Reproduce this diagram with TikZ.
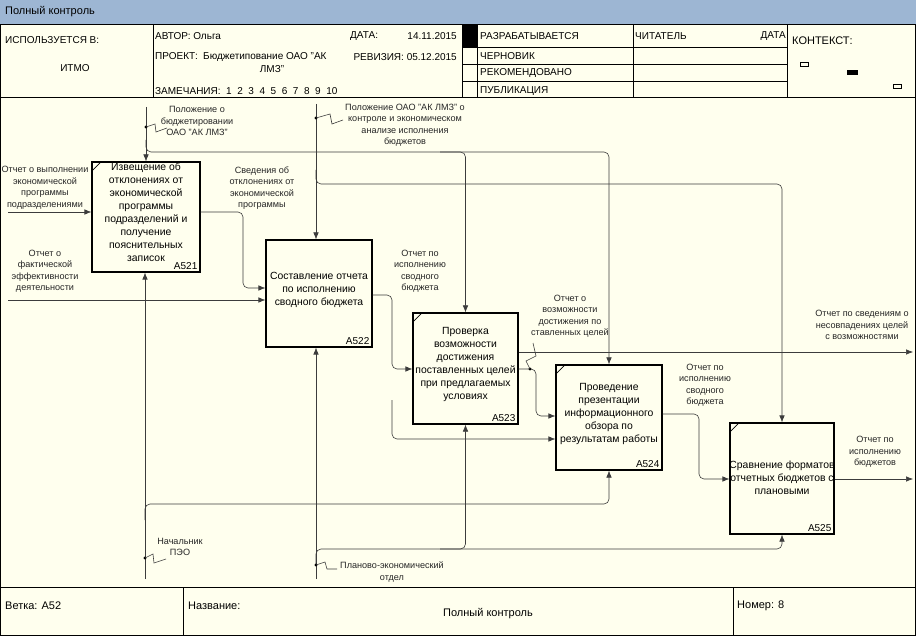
\documentclass[tikz,border=0pt]{standalone}
\usepackage{fontspec}
\setmainfont{Liberation Sans}
\usetikzlibrary{arrows.meta}
\definecolor{bg}{RGB}{255,255,238}
\definecolor{bar}{RGB}{157,182,211}
\definecolor{ln}{RGB}{60,60,60}
\begin{document}
\begin{tikzpicture}[x=1pt,y=-1pt,
 frame/.style={line width=1pt,draw=black},
 box/.style={draw=black,line width=1.1pt,fill=bg,inner sep=0pt},
 btext/.style={align=center,font=\fontsize{10.4}{13}\selectfont,inner sep=0pt},
 blabel/.style={anchor=south east,font=\fontsize{10}{12}\selectfont,inner sep=0pt},
 lab/.style={align=center,font=\fontsize{9.1}{11.5}\selectfont,inner sep=0pt,text=black!85},
 htext/.style={anchor=west,font=\fontsize{10}{12}\selectfont,inner sep=0pt},
 ftext/.style={anchor=west,font=\fontsize{11}{13}\selectfont,inner sep=0pt},
 conn/.style={draw=ln,line width=0.6pt,rounded corners=5pt},
 arr/.style={conn,-{Latex[length=7pt,width=5.5pt]}},
 dotc/.style={circle,fill=black,inner sep=0pt,minimum size=3.2pt},
 zig/.style={draw=ln,line width=0.6pt},
]
\useasboundingbox (0,0) rectangle (916,636);
\fill[bg] (0,0) rectangle (916,636);
\fill[bar] (0,0) rectangle (916,24);
\node[ftext] (title) at (5,12) {Полный контроль};

% frame
\draw[frame] (0.5,24.5) rectangle (915.5,635.5);
\draw[frame] (0,98) -- (916,98);
\draw[frame] (0,587) -- (916,587);
\draw[frame] (153,24.5) -- (153,98);
\draw[frame] (462,24.5) -- (462,98);
\draw[frame] (477,24.5) -- (477,98);
\draw[frame] (633,24.5) -- (633,98);
\draw[frame] (787,24.5) -- (787,98);
\draw[frame] (462,48) -- (787,48);
\draw[frame] (462,65) -- (787,65);
\draw[frame] (462,82) -- (787,82);
\fill[black] (462,24.5) rectangle (477,48);
\draw[frame] (183,587) -- (183,636);
\draw[frame] (733,587) -- (733,636);

% header texts
\node[htext] (h1) at (5,40) {ИСПОЛЬЗУЕТСЯ В:};
\node[htext,anchor=center] (h2) at (75,68) {ИТМО};
\node[htext] (h3) at (155,36) {АВТОР: Ольга};
\node[htext] (h4) at (350,36) {ДАТА:};
\node[htext,anchor=east] (h5) at (457,36) {14.11.2015};
\node[htext] (h6) at (155,56) {ПРОЕКТ:};
\node[htext] (h7) at (203,57) {Бюджетипование ОАО "АК};
\node[htext,anchor=center] (h8) at (272,69) {ЛМЗ"};
\node[htext,anchor=east] (h9) at (457,57) {РЕВИЗИЯ: 05.12.2015};
\node[htext] (h10) at (155,91) {ЗАМЕЧАНИЯ:\ \ 1\ \ 2\ \ 3\ \ 4\ \ 5\ \ 6\ \ 7\ \ 8\ \ 9\ \ 10};
\node[htext] (h11) at (480,36) {РАЗРАБАТЫВАЕТСЯ};
\node[htext] (h12) at (480,56) {ЧЕРНОВИК};
\node[htext] (h13) at (480,73) {РЕКОМЕНДОВАНО};
\node[htext] (h14) at (480,91) {ПУБЛИКАЦИЯ};
\node[htext] (h15) at (635,36) {ЧИТАТЕЛЬ};
\node[htext,anchor=east] (h16) at (786,36) {ДАТА};
\node[ftext] (h17) at (792,41) {КОНТЕКСТ:};
\draw[line width=0.8pt] (800,62) rectangle (808,66);
\fill[black] (847,70) rectangle (858,75);
\draw[line width=0.8pt] (893,84) rectangle (901,88);

% footer texts
\node[ftext] (f1) at (5,606) {Ветка: A52};
\node[ftext] (f2) at (188,606) {Название:};
\node[ftext,anchor=center] (f3) at (488,614) {Полный контроль};
\node[ftext] (f4) at (737,606) {Номер: 8};

% boxes
\node[box,minimum width=108pt,minimum height=110pt] (A521) at (146,217) {};
\node[box,minimum width=106pt,minimum height=107pt] (A522) at (319,293.5) {};
\node[box,minimum width=105pt,minimum height=111pt] (A523) at (465.5,368.5) {};
\node[box,minimum width=106pt,minimum height=105pt] (A524) at (609,417.5) {};
\node[box,minimum width=104pt,minimum height=111pt] (A525) at (782,478.5) {};
\foreach \b in {A521,A523,A524,A525}{
  \draw[line width=0.8pt] (\b.north west) ++(0,10) -- ++(10,-10);
}
\node[btext] (t521) at (146,212) {Извещение об\\отклонениях от\\экономической\\программы\\подразделений и\\получение\\пояснительных\\записок};
\node[btext] (t522) at (319,290) {Составление отчета\\по исполнению\\сводного бюджета};
\node[btext] (t523) at (465.5,365) {Проверка\\возможности\\достижения\\поставленных целей\\при предлагаемых\\условиях};
\node[btext] (t524) at (609,414) {Проведение\\презентации\\информационного\\обзора по\\результатам работы};
\node[btext] (t525) at (782,478) {Сравнение форматов\\отчетных бюджетов с\\плановыми};
\node[blabel] (n521) at ([xshift=-3pt,yshift=3pt]A521.south east) {A521};
\node[blabel] (n522) at ([xshift=-3pt,yshift=3pt]A522.south east) {A522};
\node[blabel] (n523) at ([xshift=-3pt,yshift=3pt]A523.south east) {A523};
\node[blabel] (n524) at ([xshift=-3pt,yshift=3pt]A524.south east) {A524};
\node[blabel] (n525) at ([xshift=-3pt,yshift=3pt]A525.south east) {A525};

% free ends
\coordinate (in1) at (8,212);
\coordinate (in2) at (8,300);
\coordinate (c1) at (146,107);
\coordinate (c2) at (316,104);
\coordinate (m1) at (145,579);
\coordinate (m2) at (316,579);
\coordinate (o1) at (913,352);
\coordinate (o2) at (913,479);

% inputs
\draw[arr] (in1) -- (A521.west |- in1);
\draw[arr] (in2) -- (A522.west |- in2);
\draw[arr] (A521.east |- 0,212) -| (243,260) |- (A522.west |- 0,288);
% controls
\draw[arr] (c1) -- (A521.north -| c1);
\draw[arr] (146,140) |- (400,152) -| (A524.north);
\draw[arr] (440,152) -| (A523.north);
\draw[arr] (c2) -- (A522.north -| c2);
\draw[arr] (316,170) |- (500,184) -| (A525.north);
% A522 outputs
\draw[arr] (A522.east |- 0,295) -| (392,330) |- (A523.west |- 0,369);
\draw[arr] (392,400) |- (A524.west |- 0,439);
% A523 outputs
\draw[arr] (A523.east |- 0,352) -- (o1);
\draw[arr] (A523.east |- 0,369) -| (536,395) |- (A524.west |- 0,416);
% A524 -> A525
\draw[arr] (A524.east |- 0,414) -| (699,450) |- (A525.west |- 0,479);
\draw[arr] (A525.east |- 0,479) -- (o2);
% mechanisms
\draw[arr] (m1) -- (A521.south -| m1);
\draw[arr] (145,520) |- (400,504) -| (A524.south);
\draw[arr] (m2) -- (A522.south -| m2);
\draw[arr] (316,565) |- (500,549) -| (A525.south);
\draw[arr] (440,549) -| (A523.south);

% squiggles
\node[dotc] (d1) at (146,127) {};
\draw[zig] (d1.center) -- (155,124) -- (156,132) -- (167,128);
\node[dotc] (d2) at (316,118) {};
\draw[zig] (d2.center) -- (330,114) -- (332,124) -- (343,120);
\node[dotc] (d3) at (145,558) {};
\draw[zig] (d3.center) -- (153,554) -- (154,563) -- (166,559);
\node[dotc] (d4) at (316,565) {};
\draw[zig] (d4.center) -- (325,562) -- (327,569) -- (337,569);
\node[dotc] (d5) at (530,369) {};
\draw[zig] (d5.center) -- (526,361) -- (536,356) -- (533,343);

% labels
\node[lab] (l1) at (197,121) {Положение о\\бюджетировании\\ОАО "АК ЛМЗ"};
\node[lab] (l2) at (405,125) {Положение ОАО "АК ЛМЗ" о\\контроле и экономическом\\анализе исполнения\\бюджетов};
\node[lab] (l3) at (45,188) {Отчет о выполнении\\экономической\\программы\\подразделениями};
\node[lab] (l4) at (45,271) {Отчет о\\фактической\\эффективности\\деятельности};
\node[lab] (l5) at (262,188) {Сведения об\\отклонениях от\\экономической\\программы};
\node[lab] (l6) at (420,271) {Отчет по\\исполнению\\сводного\\бюджета};
\node[lab] (l7) at (570,316) {Отчет о\\возможности\\достижения по\\ставленных целей};
\node[lab] (l8) at (862,325) {Отчет по сведениям о\\несовпадениях целей\\с возможностями};
\node[lab] (l9) at (705,385) {Отчет по\\исполнению\\сводного\\бюджета};
\node[lab] (l10) at (875,452) {Отчет по\\исполнению\\бюджетов};
\node[lab] (l11) at (180,547) {Начальник\\ПЭО};
\node[lab] (l12) at (392,572) {Планово-экономический\\отдел};
\end{tikzpicture}
\end{document}
